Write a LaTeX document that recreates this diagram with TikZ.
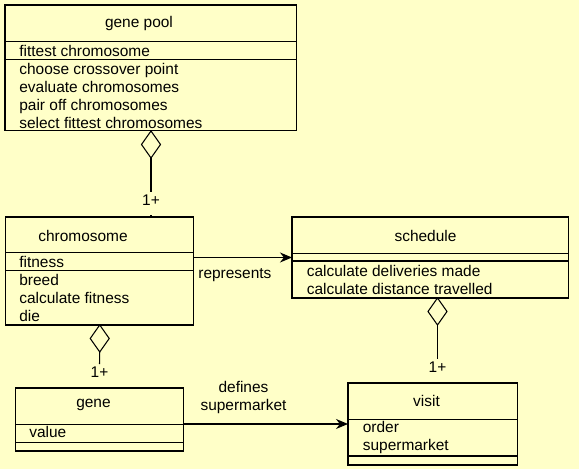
\documentclass[tikz,border=0pt]{standalone}
\usepackage{fontspec}
\setmainfont{Liberation Sans}
\usetikzlibrary{arrows.meta,shapes.geometric}
\definecolor{paper}{RGB}{255,255,200}
\tikzset{
  cls/.style={rectangle,draw,line width=0.6pt,inner sep=0pt,outer sep=0pt,anchor=north west},
  sepline/.style={line width=0.6pt},
  agg/.style={diamond,draw,line width=0.6pt,inner sep=0pt,outer sep=0pt,minimum width=0.38cm,minimum height=0.54cm,anchor=north},
  assoc/.style={line width=0.6pt},
  navi/.style={-{Stealth[length=0.24cm,width=0.2cm]},line width=0.6pt},
  mult/.style={inner xsep=0pt,inner ysep=0.06cm,text depth=0.12cm,anchor=base},
  ctitle/.style={inner sep=0pt,anchor=base},
  member/.style={inner sep=0pt,anchor=base west},
  every node/.style={font=\fontsize{8.8}{10.2}\selectfont}
}

\begin{document}
\begin{tikzpicture}[x=0.02cm,y=-0.02cm]
\fill[paper] (0,0) rectangle (579,469);
% classes
\node[cls,minimum width=5.84cm,minimum height=2.52cm] (pool) at (5,5) {};
\node[cls,minimum width=3.77cm,minimum height=2.16cm] (chrom) at (5.5,217) {};
\node[cls,minimum width=5.54cm,minimum height=1.62cm] (sched) at (292,217) {};
\node[cls,minimum width=3.37cm,minimum height=1.26cm] (gene) at (15.5,388) {};
\node[cls,minimum width=3.4cm,minimum height=1.64cm] (visit) at (348,383) {};
% compartments
\draw[sepline] (pool.west |- 0,41.5) -- (pool.east |- 0,41.5);
\draw[sepline] (pool.west |- 0,59.5) -- (pool.east |- 0,59.5);
\draw[sepline] (chrom.west |- 0,252.3) -- (chrom.east |- 0,252.3);
\draw[sepline] (chrom.west |- 0,270.3) -- (chrom.east |- 0,270.3);
\draw[sepline] (sched.west |- 0,253.3) -- (sched.east |- 0,253.3);
\draw[sepline] (sched.west |- 0,261) -- (sched.east |- 0,261);
\draw[sepline] (gene.west |- 0,424.3) -- (gene.east |- 0,424.3);
\draw[sepline] (gene.west |- 0,442.3) -- (gene.east |- 0,442.3);
\draw[sepline] (visit.west |- 0,419.3) -- (visit.east |- 0,419.3);
\draw[sepline] (visit.west |- 0,456) -- (visit.east |- 0,456);
% gene pool
\node[ctitle] (pooltitle) at (139,28) {gene pool};
\node[member] (poolfit) at (19,57) {fittest chromosome};
\node[member] (poolcross) at (19,75) {choose crossover point};
\node[member] (pooleval) at (19,93) {evaluate chromosomes};
\node[member] (poolpair) at (19,111) {pair off chromosomes};
\node[member] (poolsel) at (19,129) {select fittest chromosomes};
% chromosome
\node[ctitle] (chromtitle) at (83,242) {chromosome};
\node[member] (chromfit) at (19,268) {fitness};
\node[member] (chrombreed) at (19,286) {breed};
\node[member] (chromcalc) at (19,304) {calculate fitness};
\node[member] (chromdie) at (19,322) {die};
% schedule
\node[ctitle] (schedtitle) at (425.5,242) {schedule};
\node[member] (scheddel) at (306.5,277) {calculate deliveries made};
\node[member] (scheddist) at (306.5,295) {calculate distance travelled};
% gene
\node[ctitle] (genetitle) at (93.5,408) {gene};
\node[member] (genevalue) at (29,438) {value};
% visit
\node[ctitle] (visittitle) at (426.5,407) {visit};
\node[member] (visitorder) at (362.5,433) {order};
\node[member] (visitmarket) at (362.5,451) {supermarket};
% aggregations
\node[agg] (poolagg) at (151,131) {};
\node[agg] (chromagg) at (chrom.south) {};
\node[agg] (schedagg) at (437.5,298) {};
\node[mult] (poolmult) at (151,206) {1+};
\node[mult] (chrommult) at (99.5,378) {1+};
\node[mult] (schedmult) at (437.5,373) {1+};
\draw[assoc] (poolagg.south) -- (poolmult.north);
\draw[assoc] (poolmult.south) -- (poolmult.south |- chrom.north);
\draw[assoc] (chromagg.south) -- (chrommult.north);
\draw[assoc] (chrommult.south) -- (chrommult.south |- gene.north);
\draw[assoc] (schedagg.south) -- (schedmult.north);
\draw[assoc] (schedmult.south) -- (schedmult.south |- visit.north);
% navigable associations
\draw[navi] (chrom.east |- sched.west) -- (sched.west);
\node[member] (replabel) at (198,279) {represents};
\draw[navi] (gene.east |- visit.west) -- (visit.west);
\node[inner sep=0pt,align=center,anchor=south] (deflabel) at (243.5,414) {defines\\supermarket};
\end{tikzpicture}
\end{document}
